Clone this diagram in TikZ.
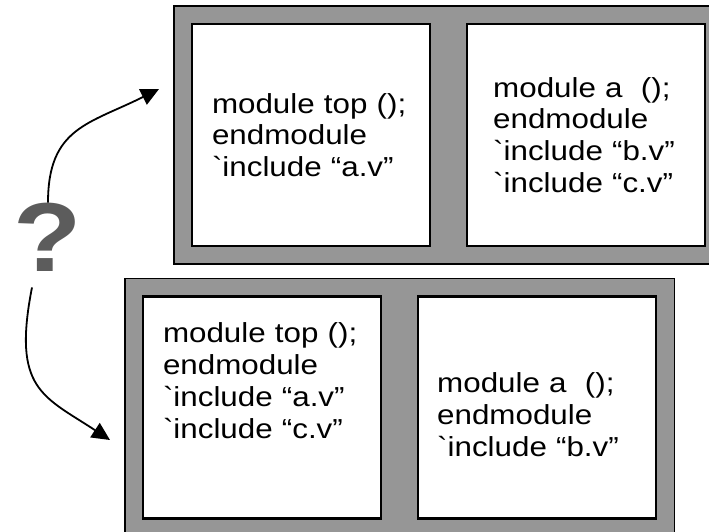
\documentclass[tikz,border=0pt]{standalone}
\usepackage{fontspec}
\usepackage{tikz}
\usetikzlibrary{arrows.meta,positioning,fit,backgrounds}
\newfontfamily\codefont{Liberation Sans}[FakeStretch=1.14]
\definecolor{cFrame}{HTML}{969696}
\definecolor{cQuery}{HTML}{5C5C5C}
\tikzset{
  modbox/.style={draw=black, line width=2.2pt, fill=white,
                 minimum height=222pt, text width=198pt, inner xsep=20pt,
                 align=left, font=\codefont\fontsize{27.5}{31.7}\selectfont},
  % struts that push the listing down or up inside its box
  padtop/.style={execute at begin node={\rule{0pt}{#1}}},
  padbot/.style={execute at end node={\rule[-#1]{0pt}{0pt}}},
  frame/.style={draw=black, line width=1.6pt, fill=cFrame, inner sep=17pt},
  flow/.style={-{Triangle[length=18pt,width=17pt]}, line width=1.8pt},
  query/.style={text=cQuery, inner sep=0pt,
                font=\codefont\bfseries\fontsize{98}{98}\selectfont},
}

\begin{document}
\begin{tikzpicture}[x=1pt, y=-1pt, node distance=35pt]
  \useasboundingbox (0,0) rectangle (709,531);
  \clip (0,0) rectangle (709,531);

  % first split: a.v pulled in by top
  \node[modbox] (topA) at (311,135) {module top ();\\endmodule\\`include “a.v”};
  \node[modbox, right=of topA, text width=186pt, inner xsep=26pt] (topB)
    {module a\ \ ();\\endmodule\\`include “b.v”\\`include “c.v”};

  % second split: top pulls in a.v and c.v
  \node[modbox, padbot=54pt] (botA) at (262,407.5)
    {module top ();\\endmodule\\`include “a.v”\\`include “c.v”};
  \node[modbox, right=of botA, padtop=34pt, text width=200pt, inner xsep=19pt] (botB)
    {module a\ \ ();\\endmodule\\`include “b.v”};

  \begin{scope}[on background layer]
    \node[frame, fit=(topA)(topB)] (topFrame) {};
    \node[frame, fit=(botA)(botB)] (botFrame) {};
  \end{scope}

  % the open question
  \node[query] (qmark) at (48,237) {?};
  \coordinate (topIn) at (159,89);
  \coordinate (botIn) at (110,440);

  \draw[flow] (qmark.north) .. controls +(0,-75) and +(-70,35) .. (topIn);
  \draw[flow] ([xshift=-16pt,yshift=-16pt]qmark.south)
    .. controls +(-20,102) and +(-67,-44) .. (botIn);
\end{tikzpicture}
\end{document}
